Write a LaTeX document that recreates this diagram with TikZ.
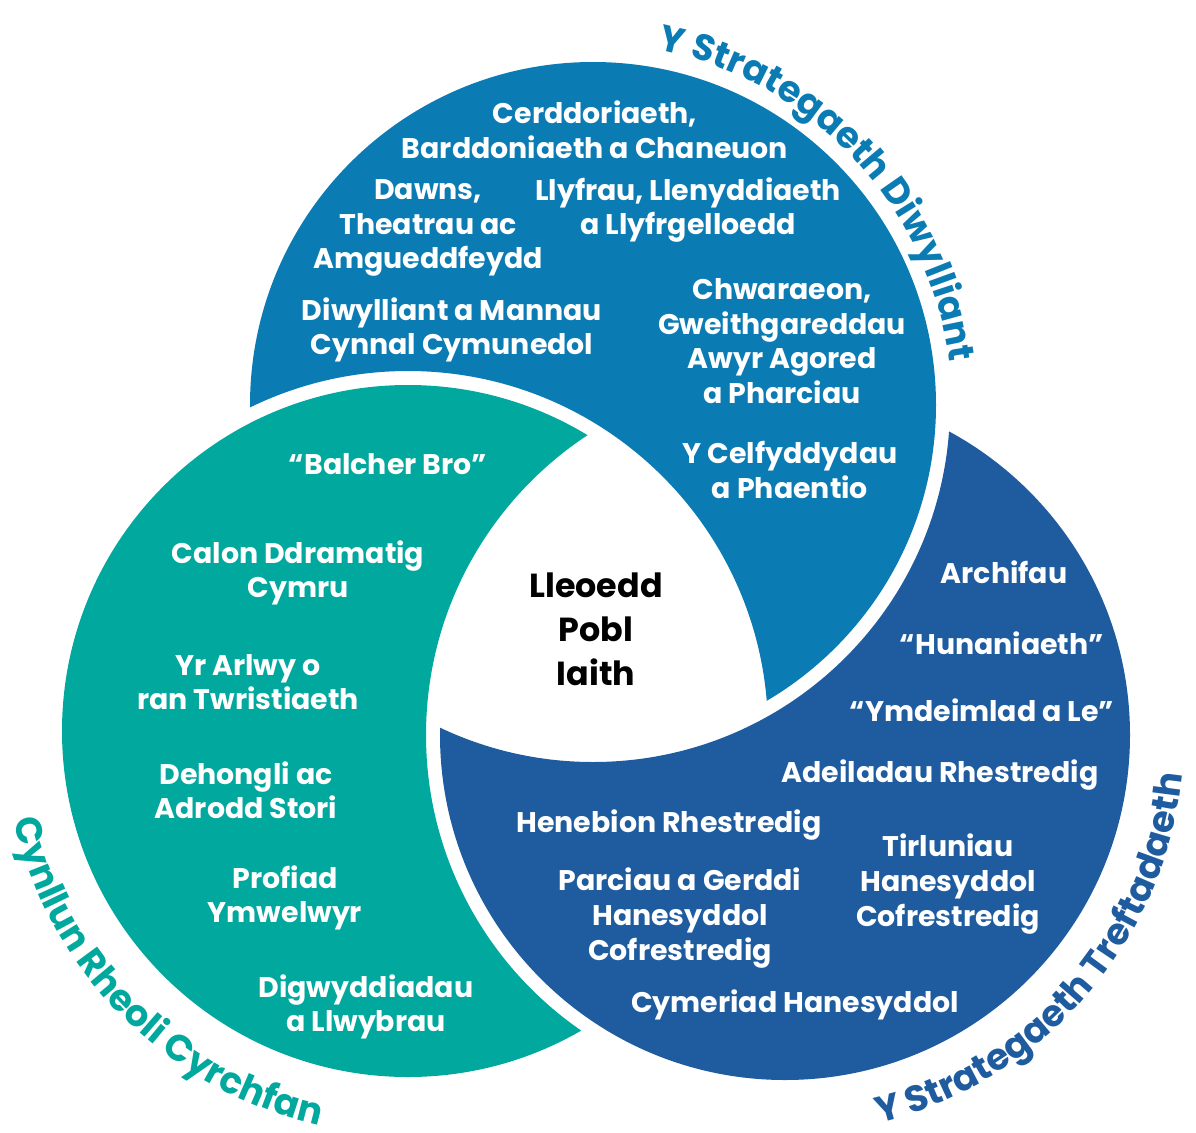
\documentclass[tikz,border=0pt]{standalone}
\usepackage{fontspec}
\setmainfont{Poppins}
\usetikzlibrary{decorations.text}
\definecolor{cT}{RGB}{11,123,179}
\definecolor{cL}{RGB}{0,168,157}
\definecolor{cR}{RGB}{31,92,159}
\newcommand{\labfont}{\fontsize{27.5}{31}\selectfont\bfseries}
\tikzset{
  intext/.style={text=white, font=\fontsize{21.3}{25.9}\selectfont\bfseries, align=center, inner sep=0pt},
  ctext/.style={text=black, font=\fontsize{25}{33}\selectfont\bfseries, align=center, inner sep=0pt},
  arclabel/.style={decorate, decoration={text along path, text align=center, text color=#1}},
}
\begin{document}
\begin{tikzpicture}[x=0.75pt,y=-0.75pt]
\useasboundingbox (0,0) rectangle (1196,1132);
\coordinate (T) at (593,405);
\coordinate (L) at (408,731);
\coordinate (R) at (785,735);
\coordinate (TL) at (585,410);
% blue top circle: T minus dilated L
\begin{scope}
  \clip (T) circle[radius=343];
  \fill[cT, even odd rule] (-50,-50) rectangle (1250,1200) (L) circle[radius=360];
\end{scope}
% teal circle: L minus dilated R
\begin{scope}
  \clip (L) circle[radius=346];
  \fill[cL, even odd rule] (-50,-50) rectangle (1250,1200) (R) circle[radius=359];
\end{scope}
% dark blue circle: R minus dilated T
\begin{scope}
  \clip (R) circle[radius=345];
  \fill[cR, even odd rule] (-50,-50) rectangle (1250,1200) (T) circle[radius=357];
\end{scope}

% curved labels
\path[arclabel=cT, decoration={text={|\labfont|Y Strategaeth Diwylliant}}]
  (TL) ++(-93:368) arc[start angle=-93, end angle=7, radius=368];
\path[arclabel=cL, decoration={text={|\labfont|Cynllun Rheoli Cyrchfan}}]
  (L) ++(180:404) arc[start angle=180, end angle=90, radius=404];
\path[arclabel=cR, decoration={text={|\labfont|Y Strategaeth Treftadaeth}}]
  (R) ++(86:399) arc[start angle=86, end angle=-4, radius=399];

% top circle texts
\node[intext] (t1) at (595,130) {Cerddoriaeth,\\Barddoniaeth a Chaneuon};
\node[intext] (t2) at (428,228) {Dawns,\\Theatrau ac\\Amgueddfeydd};
\node[intext] (t3) at (688,210) {Llyfrau, Llenyddiaeth\\a Llyfrgelloedd};
\node[intext] (t4) at (452,330) {Diwylliant a Mannau\\Cynnal Cymunedol};
\node[intext] (t5) at (782,341) {Chwaraeon,\\Gweithgareddau\\Awyr Agored\\a Pharciau};
\node[intext] (t6) at (790,470) {Y Celfyddydau\\a Phaentio};
% teal texts
\node[intext] (l1) at (388,464) {“Balcher Bro”};
\node[intext] (l2) at (298,573) {Calon Ddramatig\\Cymru};
\node[intext] (l3) at (248,682) {Yr Arlwy o\\ran Twristiaeth};
\node[intext] (l4) at (246,790) {Dehongli ac\\Adrodd Stori};
\node[intext] (l5) at (285,898) {Profiad\\Ymwelwyr};
\node[intext] (l6) at (366,1007) {Digwyddiadau\\a Llwybrau};
% dark blue texts
\node[intext] (r1) at (1004,572) {Archifau};
\node[intext] (r2) at (1002,643) {“Hunaniaeth”};
\node[intext] (r3) at (982,710) {“Ymdeimlad a Le”};
\node[intext] (r4) at (940,775) {Adeiladau Rhestredig};
\node[intext] (r5) at (669,825) {Henebion Rhestredig};
\node[intext] (r6) at (948,884) {Tirluniau\\Hanesyddol\\Cofrestredig};
\node[intext] (r7) at (680,918) {Parciau a Gerddi\\Hanesyddol\\Cofrestredig};
\node[intext] (r8) at (795,1005) {Cymeriad Hanesyddol};
% centre
\node[ctext] (c) at (596,629) {Lleoedd\\Pobl\\Iaith};
\end{tikzpicture}
\end{document}
